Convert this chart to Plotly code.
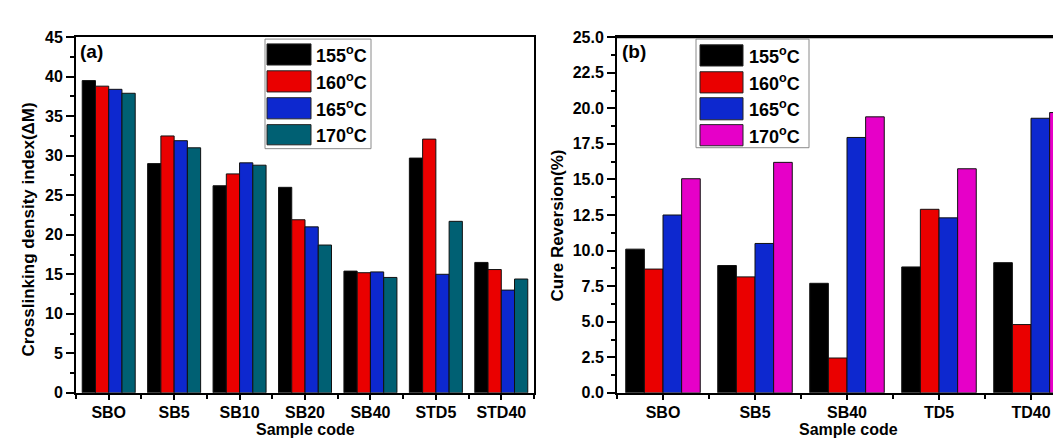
import plotly.graph_objects as go

# ---------------- data ----------------
cats_a = ["SBO", "SB5", "SB10", "SB20", "SB40", "STD5", "STD40"]
a_155 = [39.5, 29.0, 26.2, 26.0, 15.4, 29.7, 16.5]
a_160 = [38.8, 32.5, 27.7, 21.9, 15.2, 32.1, 15.6]
a_165 = [38.4, 31.9, 29.1, 21.0, 15.3, 15.0, 13.0]
a_170 = [37.9, 31.0, 28.8, 18.7, 14.6, 21.7, 14.4]

cats_b = ["SBO", "SB5", "SB40", "TD5", "TD40"]
b_155 = [10.1, 8.95, 7.7, 8.85, 9.15]
b_160 = [8.7, 8.15, 2.45, 12.9, 4.8]
b_165 = [12.5, 10.5, 17.95, 12.3, 19.3]
b_170 = [15.05, 16.2, 19.4, 15.75, 19.7]

series_names = ["155<sup>o</sup>C", "160<sup>o</sup>C", "165<sup>o</sup>C", "170<sup>o</sup>C"]
colors_a = ["#000000", "#ea0000", "#0d28cf", "#006073"]
colors_b = ["#000000", "#ea0000", "#0d28cf", "#e600c8"]

x_title = "Sample code"
y_title_a = "Crosslinking density index(\u0394M)"
y_title_b = "Cure Reversion(%)"

W, H = 1061, 440
FONT = "Liberation Sans, Arial, sans-serif"

fig = go.Figure()

def px_x(v):
    return v / W

def px_y(v):
    return 1 - v / H

for vals, name, col in zip([a_155, a_160, a_165, a_170], series_names, colors_a):
    fig.add_trace(go.Bar(x=list(range(len(cats_a))), y=vals, name=name,
                         marker=dict(color=col, line=dict(color="#111111", width=1)),
                         xaxis="x", yaxis="y", showlegend=False))
for vals, name, col in zip([b_155, b_160, b_165, b_170], series_names, colors_b):
    fig.add_trace(go.Bar(x=list(range(len(cats_b))), y=vals, name=name,
                         marker=dict(color=col, line=dict(color="#111111", width=1)),
                         xaxis="x2", yaxis="y2", showlegend=False))

tickfont = dict(family=FONT, size=16, color="black", weight="bold")
titlefont = dict(family=FONT, size=17, color="black", weight="bold")
xtitlefont = dict(family=FONT, size=16, color="black", weight="bold")

common_x = dict(showline=True, linecolor="black", linewidth=2, mirror=True,
                ticks="outside", ticklen=5, tickwidth=2, tickcolor="black",
                ticklabelstandoff=-1,
                showgrid=False, zeroline=False, tickfont=tickfont,
                minor=dict(tickmode="linear", tick0=0.5, dtick=1, ticks="outside",
                           ticklen=4, tickwidth=2, tickcolor="black", showgrid=False))

fig.update_layout(
    width=W, height=H, autosize=False,
    margin=dict(l=0, r=0, t=0, b=0),
    paper_bgcolor="white", plot_bgcolor="white",
    barmode="group", bargap=0.19, bargroupgap=0,
    font=dict(family=FONT, color="black"),
    xaxis=dict(domain=[px_x(68), px_x(526)], range=[-0.5, 6.5], anchor="y",
               tickmode="array", tickvals=list(range(len(cats_a))), ticktext=cats_a,
               **common_x),
    yaxis=dict(domain=[px_y(392), px_y(22)], range=[0, 45], anchor="x",
               tickmode="linear", tick0=0, dtick=5,
               showline=True, linecolor="black", linewidth=2, mirror=True,
               ticks="outside", ticklen=8, tickwidth=2, tickcolor="black",
               showgrid=False, zeroline=False, tickfont=tickfont,
               minor=dict(tickmode="linear", tick0=0, dtick=2.5, ticks="outside",
                          ticklen=4, tickwidth=2, tickcolor="black", showgrid=False)),
    xaxis2=dict(domain=[px_x(609), 1.0], range=[-0.5, 4.413], anchor="y2",
                tickmode="array", tickvals=list(range(len(cats_b))), ticktext=cats_b,
                **common_x),
    yaxis2=dict(domain=[px_y(392), px_y(22)], range=[0, 25], anchor="x2",
                tickmode="linear", tick0=0, dtick=2.5, tickformat=".1f",
                showline=True, linecolor="black", linewidth=2, mirror=False,
                ticks="outside", ticklen=8, tickwidth=2, tickcolor="black",
                showgrid=False, zeroline=False, tickfont=tickfont,
                minor=dict(tickmode="linear", tick0=0, dtick=1.25, ticks="outside",
                           ticklen=4, tickwidth=2, tickcolor="black", showgrid=False)),
)

shapes = []
annotations = []

# top frame line for the right panel (right edge is cropped in the reference)
shapes.append(dict(type="line", xref="paper", yref="paper",
                   x0=px_x(609), x1=1.0, y0=px_y(22), y1=px_y(22),
                   line=dict(color="black", width=2)))

# axis titles
for xc in (297, 840):
    annotations.append(dict(text=x_title, xref="paper", yref="paper", x=px_x(xc), y=0,
                            xanchor="center", yanchor="bottom", showarrow=False,
                            borderpad=0, font=xtitlefont))
annotations.append(dict(text=y_title_a, xref="paper", yref="paper", x=px_x(20), y=px_y(222),
                        xanchor="center", yanchor="middle", textangle=-90, showarrow=False,
                        font=titlefont))
annotations.append(dict(text=y_title_b, xref="paper", yref="paper", x=px_x(550), y=px_y(218),
                        xanchor="center", yanchor="middle", textangle=-90, showarrow=False,
                        font=titlefont))

# panel labels
annotations.append(dict(text="(a)", xref="paper", yref="paper", x=px_x(70), y=px_y(24),
                        xanchor="left", yanchor="top", showarrow=False,
                        font=dict(family=FONT, size=19, color="black", weight="bold")))
annotations.append(dict(text="(b)", xref="paper", yref="paper", x=px_x(612), y=px_y(24),
                        xanchor="left", yanchor="top", showarrow=False,
                        font=dict(family=FONT, size=19, color="black", weight="bold")))

# custom legends (large swatches like the original)
def add_legend(box, sw_x, text_x, rows, cols):
    x0, y0, x1, y1 = box
    shapes.append(dict(type="rect", xref="paper", yref="paper",
                       x0=px_x(x0), x1=px_x(x1), y0=px_y(y1), y1=px_y(y0),
                       line=dict(color="#8a8a8a", width=1), fillcolor="white", layer="above"))
    for (ry0, ry1), col, name in zip(rows, cols, series_names):
        shapes.append(dict(type="rect", xref="paper", yref="paper",
                           x0=px_x(sw_x[0]), x1=px_x(sw_x[1]), y0=px_y(ry1), y1=px_y(ry0),
                           line=dict(color="#222222", width=1), fillcolor=col, layer="above"))
        annotations.append(dict(text=name, xref="paper", yref="paper",
                                x=px_x(text_x), y=px_y((ry0 + ry1) / 2),
                                xanchor="left", yanchor="middle", showarrow=False,
                                font=dict(family=FONT, size=18, color="black", weight="bold")))

add_legend((257, 24, 363, 138), (259, 303), 306,
           [(29, 51), (57, 79), (85, 107), (113, 134)], colors_a)
add_legend((688, 24, 801, 137), (692, 735), 739,
           [(30, 52), (58, 80), (85, 108), (113, 135)], colors_b)

fig.update_layout(shapes=shapes, annotations=annotations)

fig.write_html("out.html")
